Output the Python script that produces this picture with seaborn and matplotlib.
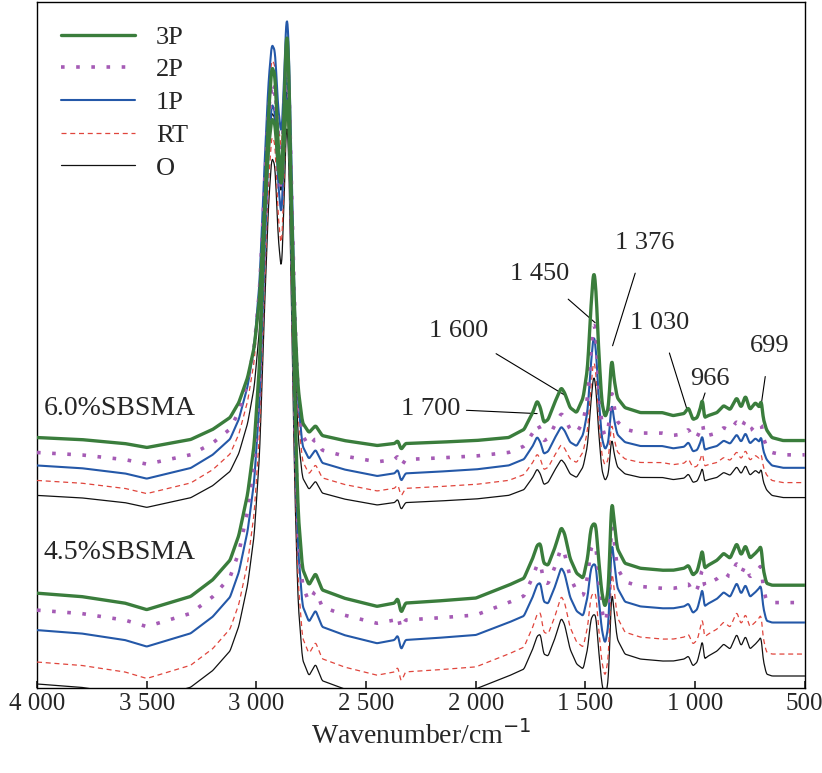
import numpy as np
import pandas as pd
import matplotlib
matplotlib.use("Agg")
import matplotlib.pyplot as plt
import seaborn as sns

sns.set_theme(style="white")
plt.rcParams['font.family'] = ['Liberation Serif', 'DejaVu Serif']

# C-H / high-wavenumber region knots (shared by both groups)
wn_ch = [4000,3800,3600,3500,3400,3300,3200,3120,3080,3040,3010,2985,2965,2945,2930,2915,2900,2885,2872,2862,
         2852,2840,2825,2810,2790,2760,2730,2700,2600,2450,2370,2355,2340,2320,2200,2000]
band_ch = [0,-2,-6,-10,-6,-2,8,20,35,60,90,140,220,290,320,315,270,250,300,345,
           320,230,120,50,15,5,12,2,-3,-8,-6,-3,-12,-6,-5,-3]
# fingerprint region knots
wn_fp = [1850,1780,1740,1720,1705,1690,1670,1640,1610,1595,1570,1540,1510,1490,1475,1462,1452,1440,1425,1410,
         1395,1380,1370,1355,1320,1250,1150,1100,1050,1030,1010,990,975,966,958,940,900,870,840,810,
         790,770,750,725,705,699,690,675,650,600,500]
band_fp_hi = [0,8,25,37,30,15,18,35,50,45,30,25,40,70,130,169,150,90,35,20,
              30,82,60,40,30,25,25,22,24,30,18,20,30,40,20,22,25,32,28,40,
              30,42,28,35,30,40,20,8,0,-3,-3]
band_fp_lo = [8,15,35,48,50,30,28,45,66,60,35,20,15,35,65,70,68,35,0,-15,
              5,95,75,45,30,25,23,23,25,28,18,22,35,45,25,28,33,40,35,50,
              38,48,35,40,45,48,25,10,8,8,8]

series = ["3P", "2P", "1P", "RT", "O"]
groups = ["6.0%SBSMA", "4.5%SBSMA"]
base = {"6.0%SBSMA": [437, 452, 465, 480, 495], "4.5%SBSMA": [593, 610, 630, 662, 684]}
s_ch = {"6.0%SBSMA": [1.0, 1.17, 1.32, 1.32, 1.2], "4.5%SBSMA": [1.65, 1.65, 1.65, 1.65, 1.65]}
s_fp = {"6.0%SBSMA": [1.0, 0.78, 0.78, 0.72, 0.72], "4.5%SBSMA": [1.0, 0.95, 0.95, 1.0, 1.0]}

colors = {"3P": "#3a7d3c", "2P": "#a55bb5", "1P": "#2458a8", "RT": "#e0453c", "O": "#111111"}
styles = {"3P": dict(lw=2.4, ls="-"), "2P": dict(lw=2.6, ls=(0, (1, 3.2))),
          "1P": dict(lw=1.5, ls="-"), "RT": dict(lw=0.9, ls=(0, (4, 3))), "O": dict(lw=0.9, ls="-")}

fig = plt.figure(figsize=(8.22, 7.73), dpi=100)
ax = fig.add_axes([0.045, 0.11, 0.934, 0.888])
grid = np.arange(4000, 499, -2.0)

def smooth(v, n=5):
    k = np.ones(n) / n
    p = np.pad(v, n // 2, mode="edge")
    return np.convolve(p, k, mode="valid")

xch, xfp = np.array(wn_ch, float), np.array(wn_fp, float)
for g in groups:
    bfp = band_fp_hi if g == groups[0] else band_fp_lo
    for s in reversed(series):
        k = series.index(s)
        yk = np.concatenate([base[g][k] - s_ch[g][k] * np.array(band_ch, float),
                             base[g][k] - s_fp[g][k] * np.array(bfp, float)])
        xk = np.concatenate([xch, xfp])
        y = smooth(np.interp(grid[::-1], xk[::-1], yk[::-1])[::-1])
        df = pd.DataFrame({"x": grid, "y": y})
        sns.lineplot(data=df, x="x", y="y", ax=ax, color=colors[s], sort=False,
                     label=s if g == groups[0] else None, zorder=10 - k, **styles[s])

ax.set_xlim(4000, 500)
ax.set_ylim(688, 0)
ax.set_yticks([])
ax.set_xticks([4000, 3500, 3000, 2500, 2000, 1500, 1000, 500])
ax.set_xticklabels(["4 000", "3 500", "3 000", "2 500", "2 000", "1 500", "1 000", "500"], fontsize=18)
ax.tick_params(axis="x", direction="in", length=5, bottom=True)
ax.set_xlabel("Wavenumber/cm$^{-1}$", fontsize=20)
ax.set_ylabel("")
for sp in ax.spines.values():
    sp.set_color("black"); sp.set_linewidth(1)

h, l = ax.get_legend_handles_labels()
ax.legend(h[::-1], l[::-1], loc="upper left", fontsize=19, frameon=False, handlelength=2.8,
          labelspacing=0.35, bbox_to_anchor=(0.0, 1.0))

ax.text(3970, 408, "6.0%SBSMA", fontsize=20, va="center")
ax.text(3970, 552, "4.5%SBSMA", fontsize=20, va="center")

ann = [("1 700", 1720, 413, 2070, 408, "right"), ("1 600", 1590, 395, 2080, 330, "center"),
       ("1 450", 1455, 322, 1710, 273, "center"), ("1 376", 1376, 345, 1230, 242, "center"),
       ("1 030", 1035, 410, 1160, 322, "center"), ("966", 966, 400, 933, 378, "center"),
       ("699", 699, 405, 660, 345, "center")]
for t, xt, yt, xl, yl, ha in ann:
    ax.annotate(t, xy=(xt, yt), xytext=(xl, yl), fontsize=19, ha=ha, va="center",
                arrowprops=dict(arrowstyle="-", color="black", lw=0.8,
                                shrinkA=12 if ha == "center" else 2, shrinkB=0))
fig.savefig("out.png", dpi=100)
